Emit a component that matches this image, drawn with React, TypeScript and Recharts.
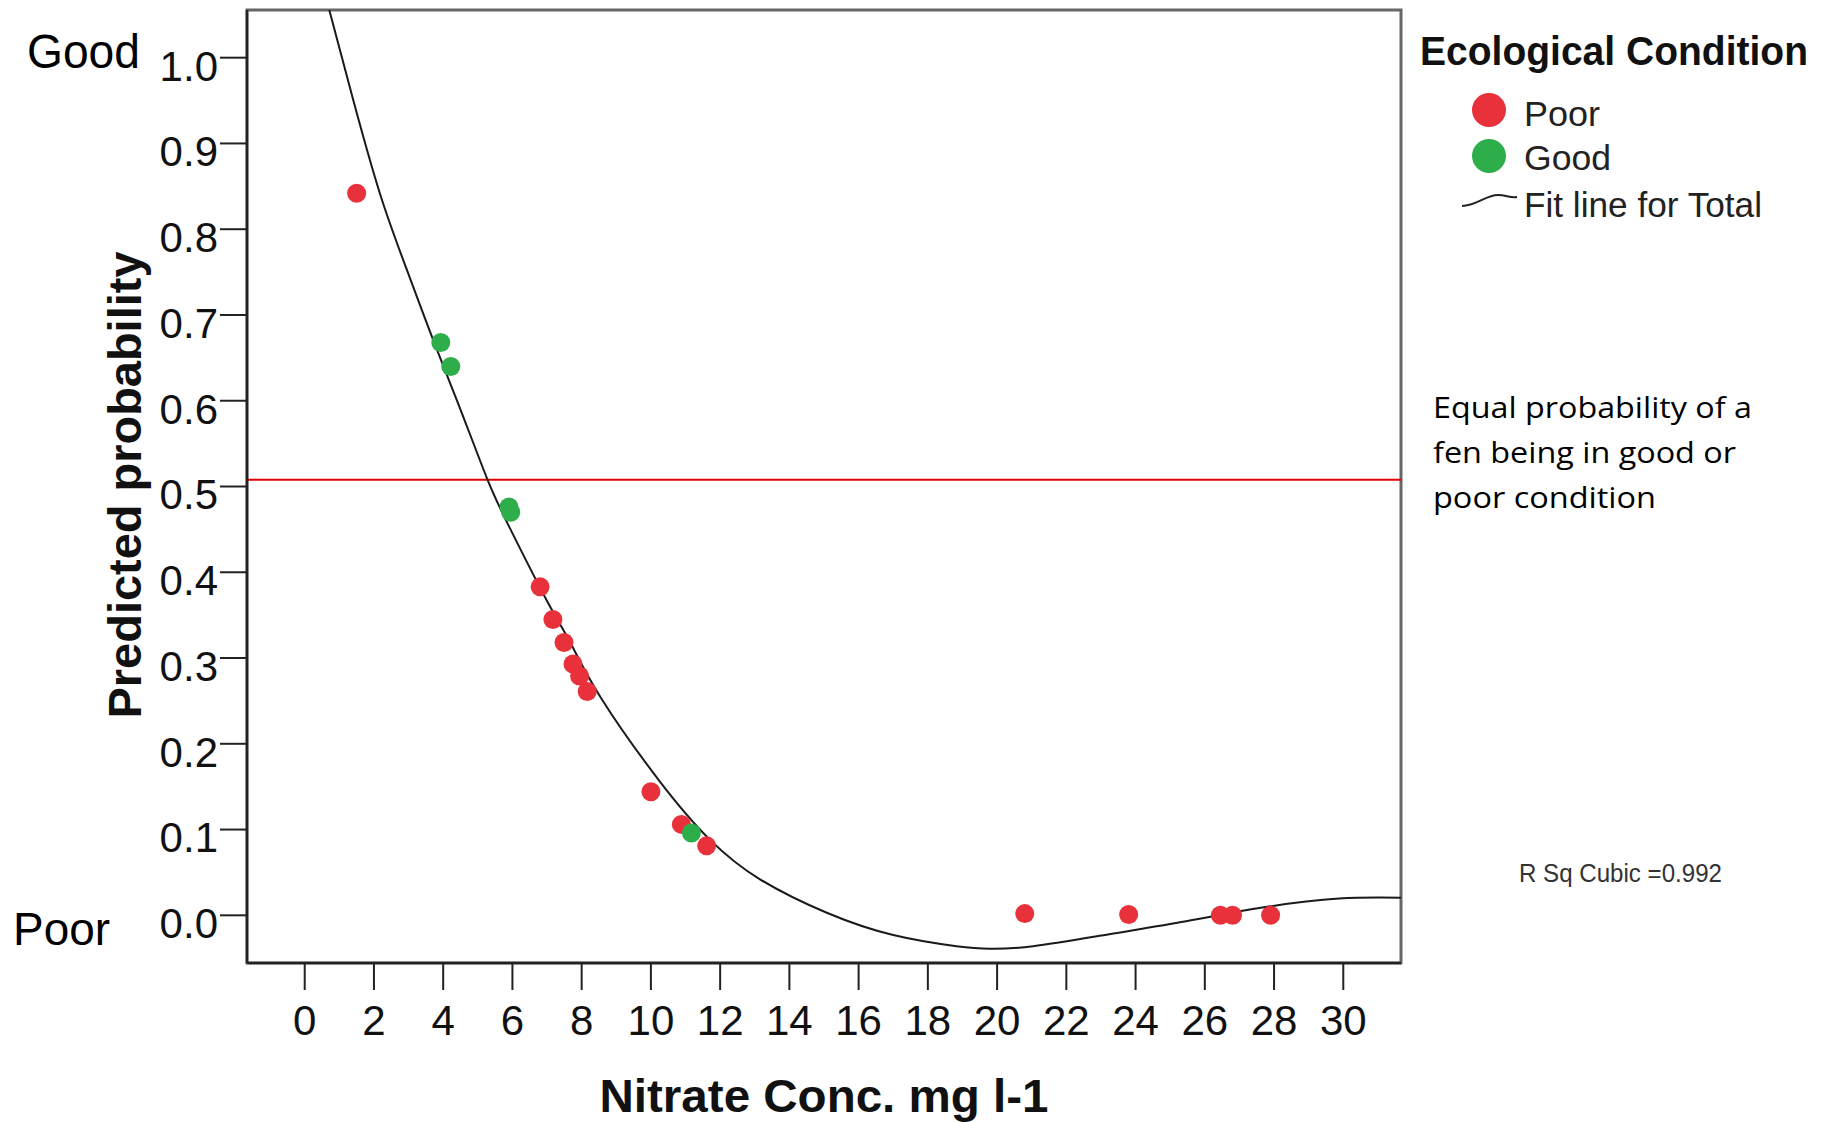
import React from 'react'
import { ComposedChart, XAxis, YAxis, Scatter, Line, ReferenceLine, ReferenceArea } from 'recharts'

// axis ticks
const xTicks = [0, 2, 4, 6, 8, 10, 12, 14, 16, 18, 20, 22, 24, 26, 28, 30]
const yTicks = [0, 0.1, 0.2, 0.3, 0.4, 0.5, 0.6, 0.7, 0.8, 0.9, 1.0]
const xDomain = [-1.667, 31.667]
const yDomain = [-0.0556, 1.0556]

// sites in poor condition
const poorNitrate = [1.5, 6.8, 7.17, 7.49, 7.75, 7.94, 8.16, 10.0, 10.88, 11.61, 20.8, 23.8, 26.45, 26.8, 27.9]
const poorProb = [0.842, 0.383, 0.345, 0.318, 0.293, 0.279, 0.261, 0.144, 0.106, 0.081, 0.002, 0.001, 0.0, 0.0, 0.0]

// sites in good condition
const goodNitrate = [3.93, 4.22, 5.9, 5.95, 11.17]
const goodProb = [0.668, 0.64, 0.476, 0.47, 0.096]

// cubic fit line
const fitNitrate = [0.71, 1.4, 2.17, 2.92, 3.7, 4.45, 5.28, 5.92, 6.98, 7.66, 8.55, 10.26, 11.71, 13.15, 15.08, 17.0, 18.83, 19.8, 21.04, 23.24, 25.46, 27.66, 29.88, 31.667]
const fitProb = [1.0556, 0.951, 0.842, 0.756, 0.672, 0.595, 0.508, 0.452, 0.368, 0.319, 0.254, 0.156, 0.088, 0.042, 0.003, -0.023, -0.036, -0.039, -0.036, -0.022, -0.007, 0.009, 0.0195, 0.0205]

const equalProb = 0.508

const RED = '#e8313a'
const GREEN = '#2eae4a'
const ARIAL = '"Liberation Sans", Arial, sans-serif'

const poorData = poorNitrate.map((x, i) => ({ x, y: poorProb[i] }))
const goodData = goodNitrate.map((x, i) => ({ x, y: goodProb[i] }))
const fitData = fitNitrate.map((x, i) => ({ x, y: fitProb[i] }))

const dot = (fill: string) => (props: any) => <circle cx={props.cx} cy={props.cy} r={9.5} fill={fill} />

function YTick(props: any) {
  const { x, y, payload } = props
  return (
    <text x={x} y={y + 8} dy="0.355em" textAnchor="end" fontSize={42} fontFamily={ARIAL} fill="#111">
      {Number(payload.value).toFixed(1)}
    </text>
  )
}

function Overlay() {
  return (
    <svg width={1827} height={1122} style={{ position: 'absolute', left: 0, top: 0, pointerEvents: 'none' }}>
      <g fontFamily={ARIAL}>
        <text x={27} y={68} fontSize={48} fill="#000" textLength={113} lengthAdjust="spacingAndGlyphs">Good</text>
        <text x={13} y={945} fontSize={46} fill="#000" textLength={97} lengthAdjust="spacingAndGlyphs">Poor</text>
        <text transform="translate(141,485) rotate(-90)" textAnchor="middle" fontSize={47} fontWeight="bold" fill="#111" textLength={467} lengthAdjust="spacingAndGlyphs">Predicted probability</text>
        <text x={824} y={1112} textAnchor="middle" fontSize={47} fontWeight="bold" fill="#111" textLength={449} lengthAdjust="spacingAndGlyphs">Nitrate Conc. mg l-1</text>

        <text x={1420} y={65} fontSize={40} fontWeight="bold" fill="#111" textLength={388} lengthAdjust="spacingAndGlyphs">Ecological Condition</text>
        <circle cx={1489} cy={110} r={17} fill={RED} />
        <text x={1524} y={126} fontSize={35} fill="#222" textLength={76} lengthAdjust="spacingAndGlyphs">Poor</text>
        <circle cx={1489} cy={156} r={17} fill={GREEN} />
        <text x={1524} y={170} fontSize={35} fill="#222" textLength={87} lengthAdjust="spacingAndGlyphs">Good</text>
        <path d="M1462,206 C1476,206 1486,195 1498,195 C1506,195 1510,198 1517,197" stroke="#222" strokeWidth={2} fill="none" />
        <text x={1524} y={217} fontSize={35} fill="#222" textLength={238} lengthAdjust="spacingAndGlyphs">Fit line for Total</text>

        <text x={1519} y={882} fontSize={25} fill="#333" textLength={203} lengthAdjust="spacingAndGlyphs">R Sq Cubic =0.992</text>
      </g>
      <g fontFamily='"Open Sans", "Noto Sans", sans-serif' fontSize={30} fill="#000">
        <text x={1433} y={418} textLength={319} lengthAdjust="spacingAndGlyphs">Equal probability of a</text>
        <text x={1433} y={463} textLength={303} lengthAdjust="spacingAndGlyphs">fen being in good or</text>
        <text x={1433} y={508} textLength={223} lengthAdjust="spacingAndGlyphs">poor condition</text>
      </g>
    </svg>
  )
}

export default function App() {
  return (
    <div style={{ position: 'absolute', left: 0, top: 0, width: 1827, height: 1122, background: '#fff' }}>
      <ComposedChart width={1827} height={1122} margin={{ top: 10, right: 426, bottom: 0, left: 0 }}>
        <XAxis
          type="number"
          dataKey="x"
          domain={xDomain}
          ticks={xTicks}
          allowDataOverflow
          height={159}
          tickSize={27}
          tickMargin={15}
          axisLine={{ stroke: '#222', strokeWidth: 2.5 }}
          tickLine={{ stroke: '#222', strokeWidth: 2 }}
          tick={{ fontSize: 42, fontFamily: ARIAL, fill: '#111' }}
        />
        <YAxis
          type="number"
          dataKey="y"
          domain={yDomain}
          ticks={yTicks}
          allowDataOverflow
          width={247}
          tickSize={27}
          tickMargin={2}
          axisLine={{ stroke: '#222', strokeWidth: 2.5 }}
          tickLine={{ stroke: '#222', strokeWidth: 2 }}
          tick={<YTick />}
        />
        <ReferenceArea x1={xDomain[0]} x2={xDomain[1]} y1={yDomain[0]} y2={yDomain[1]} fill="none" stroke="#666" strokeWidth={3} ifOverflow="visible" />
        <ReferenceLine y={equalProb} stroke="#e30000" strokeWidth={2} />
        <Line data={fitData} dataKey="y" type="natural" stroke="#1a1a1a" strokeWidth={2} dot={false} isAnimationActive={false} />
        <Scatter data={poorData} dataKey="y" fill={RED} shape={dot(RED)} isAnimationActive={false} />
        <Scatter data={goodData} dataKey="y" fill={GREEN} shape={dot(GREEN)} isAnimationActive={false} />
      </ComposedChart>
      <Overlay />
    </div>
  )
}
